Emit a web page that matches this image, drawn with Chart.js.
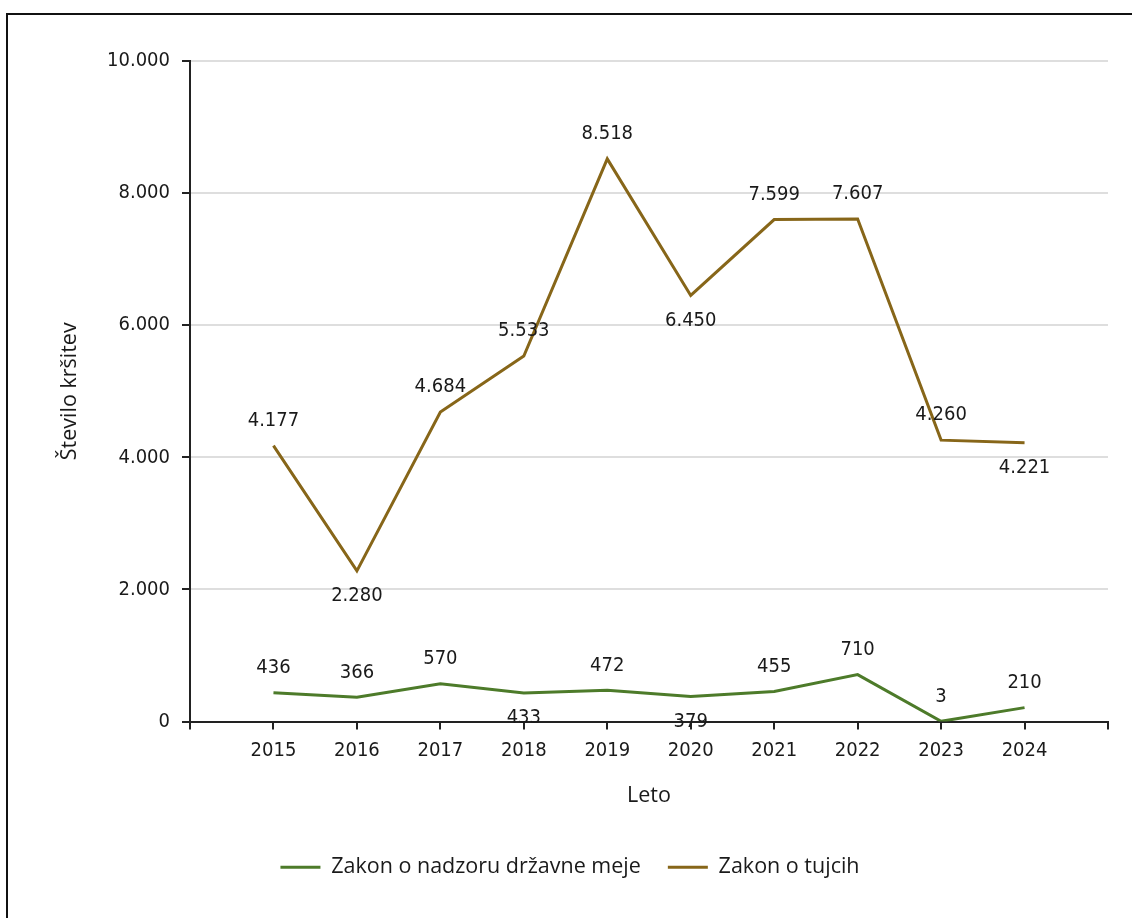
<!DOCTYPE html>
<html>
<head>
<meta charset="utf-8">
<script src="https://cdn.jsdelivr.net/npm/chart.js@4.4.1/dist/chart.umd.min.js"></script>
<style>
  body { margin: 0; background: #fff; }
  #wrap { position: relative; width: 1132px; height: 918px; }
  #frame {
    position: absolute; left: 6px; top: 13px; right: 0; bottom: 0;
    border-top: 2px solid #111; border-left: 2px solid #111;
    pointer-events: none;
  }
  canvas { position: absolute; left: 0; top: 0; }
</style>
</head>
<body>
<div id="wrap">
  <canvas id="lineChart" width="1132" height="918"></canvas>
  <div id="frame"></div>
</div>
<script>
// data
const years = ["2015", "2016", "2017", "2018", "2019", "2020", "2021", "2022", "2023", "2024"];
const mejaValues = [436, 366, 570, 433, 472, 379, 455, 710, 3, 210];
const tujciValues = [4177, 2280, 4684, 5533, 8518, 6450, 7599, 7607, 4260, 4221];
// where each value label sits: a = above the point, b = below
const mejaLabelPos = ["a", "a", "a", "b", "a", "b", "a", "a", "a", "a"];
const tujciLabelPos = ["a", "b", "a", "a", "a", "b", "a", "a", "a", "b"];
const yTicks = [0, 2000, 4000, 6000, 8000, 10000];

const numFont = "'DejaVu Sans Condensed', 'DejaVu Sans', sans-serif";
const textFont = "'Open Sans', 'Noto Sans', sans-serif";

function fmt(v) {
  return v.toLocaleString("de-DE");
}

// empty slot at each end so the axis runs past the first and last year
const labels = [""].concat(years, [""]);
const pad = (arr) => [null].concat(arr, [null]);

const valueLabels = {
  id: "valueLabels",
  afterDatasetsDraw(chart) {
    const ctx = chart.ctx;
    ctx.save();
    ctx.font = "20px " + numFont;
    ctx.fillStyle = "#1a1a1a";
    ctx.textAlign = "center";
    ctx.textBaseline = "middle";
    chart.data.datasets.forEach((ds, i) => {
      const meta = chart.getDatasetMeta(i);
      meta.data.forEach((pt, j) => {
        const v = ds.data[j];
        if (v == null) return;
        const dy = ds.labelPos[j - 1] === "b" ? 25 : -25;
        ctx.fillText(fmt(v), pt.x, pt.y + dy);
      });
    });
    ctx.restore();
  },
};

const ctx = document.getElementById("lineChart").getContext("2d");
new Chart(ctx, {
  type: "line",
  data: {
    labels: labels,
    datasets: [
      {
        label: "Zakon o nadzoru državne meje",
        data: pad(mejaValues),
        labelPos: mejaLabelPos,
        borderColor: "#4d7b2a",
        backgroundColor: "#4d7b2a",
        borderWidth: 3,
        pointRadius: 0,
        tension: 0,
      },
      {
        label: "Zakon o tujcih",
        data: pad(tujciValues),
        labelPos: tujciLabelPos,
        borderColor: "#876619",
        backgroundColor: "#876619",
        borderWidth: 3,
        pointRadius: 0,
        tension: 0,
      },
    ],
  },
  options: {
    responsive: false,
    animation: false,
    layout: {
      padding: { top: 61, left: 32, right: 24, bottom: 30 },
    },
    plugins: {
      tooltip: { enabled: false },
      legend: {
        position: "bottom",
        labels: {
          usePointStyle: true,
          pointStyle: "line",
          pointStyleWidth: 40,
          padding: 27,
          color: "#1a1a1a",
          font: { family: textFont, size: 21.5 },
        },
      },
    },
    scales: {
      x: {
        afterFit: (scale) => { scale.height = 108; },
        grid: {
          drawOnChartArea: false,
          tickLength: 8,
          color: "#222",
          lineWidth: 2,
        },
        border: { color: "#222", width: 2 },
        ticks: {
          color: "#1a1a1a",
          padding: 9,
          maxRotation: 0,
          autoSkip: false,
          font: { family: numFont, size: 20 },
        },
        title: {
          display: true,
          text: "Leto",
          color: "#1a1a1a",
          padding: { top: 0, bottom: 21 },
          font: { family: textFont, size: 21.5 },
        },
      },
      y: {
        min: 0,
        max: 10000,
        afterFit: (scale) => { scale.width = 158; },
        afterBuildTicks: (scale) => {
          scale.ticks = yTicks.map((v) => ({ value: v }));
        },
        grid: {
          color: "#dedede",
          lineWidth: 2,
          tickLength: 8,
          tickColor: "#222",
        },
        border: { color: "#222", width: 2 },
        ticks: {
          color: "#1a1a1a",
          padding: 12,
          font: { family: numFont, size: 20 },
          callback: (value) => fmt(value),
        },
        title: {
          display: true,
          text: "Število kršitev",
          color: "#1a1a1a",
          padding: { top: 25, bottom: 0 },
          font: { family: textFont, size: 21.5 },
        },
      },
    },
  },
  plugins: [valueLabels],
});
</script>
</body>
</html>
